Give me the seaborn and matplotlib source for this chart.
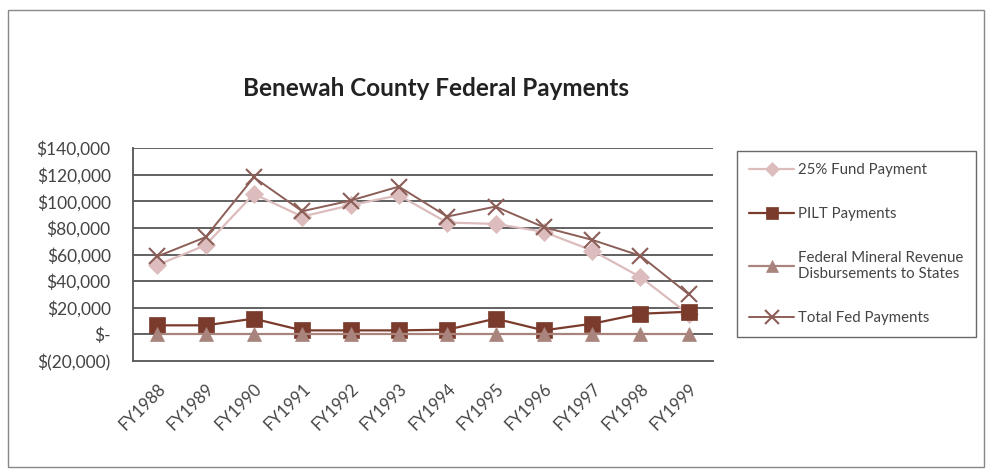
import numpy as np
import pandas as pd
import seaborn as sns
import matplotlib.pyplot as plt
from matplotlib.patches import Rectangle
from matplotlib.ticker import FuncFormatter

years = ['FY1988', 'FY1989', 'FY1990', 'FY1991', 'FY1992', 'FY1993',
         'FY1994', 'FY1995', 'FY1996', 'FY1997', 'FY1998', 'FY1999']
fund_25 = [52000, 67000, 105500, 88500, 97000, 104500, 84000, 83000, 77000, 63000, 43000, 15000]
pilt = [6800, 6800, 11800, 3000, 3000, 3000, 3500, 11800, 3000, 8000, 15500, 17000]
mineral = [200, 200, 200, 200, 200, 200, 200, 200, 200, 200, 200, 200]
total = [58500, 73000, 118000, 92500, 100500, 111000, 88500, 96000, 80500, 71000, 59000, 30000]

labels = ['25% Fund Payment', 'PILT Payments',
          'Federal Mineral Revenue\nDisbursements to States', 'Total Fed Payments']
colors = ['#dcbcbc', '#7a3a2c', '#a8847c', '#8c5e58']
markers = ['D', 's', '^', 'x']
msizes = [9, 11, 10, 12]
lws = [1.6, 1.6, 1.6, 1.4]

sns.set_style('white')
plt.rcParams['font.family'] = ['Lato', 'DejaVu Sans']

fig = plt.figure(figsize=(9.9, 4.69), dpi=100)
ax = fig.add_axes([133/990, 1 - 361/469, (713-133)/990, (361-148)/469])

for vals, lab, c, m, ms, lw in zip([fund_25, pilt, mineral, total], labels, colors, markers, msizes, lws):
    df = pd.DataFrame({'year': years, 'value': vals})
    sns.lineplot(data=df, x='year', y='value', ax=ax, color=c, marker=m, markersize=ms,
                 linewidth=lw, markeredgecolor=c, markeredgewidth=1.5 if m == 'x' else 0.5,
                 label=lab, sort=False)

ax.set_xlim(-0.5, len(years) - 0.5)
ax.set_ylim(-20000, 140000)
ax.set_yticks(np.arange(-20000, 140001, 20000))
for y in np.arange(0, 140001, 20000):
    ax.axhline(y, color='#555555', lw=1.3, zorder=0)

def money(v, pos):
    if v == 0:
        return '$-'
    if v < 0:
        return '$({:,.0f})'.format(-v)
    return '${:,.0f}'.format(v)

ax.yaxis.set_major_formatter(FuncFormatter(money))
ax.set_xticks(range(len(years)))
ax.set_xticklabels(years, rotation=45, ha='right', rotation_mode='anchor', fontsize=12, color='#444444')
ax.set_xticks(np.arange(-0.5, len(years), 1), minor=True)
ax.tick_params(axis='x', which='major', length=0, pad=14)
ax.tick_params(axis='x', which='minor', length=5, direction='out', color='#555555', width=1.2)
ax.tick_params(axis='y', length=8, direction='inout', color='#555555', width=1.2, pad=12,
               labelsize=12.5, labelcolor='#444444')
ax.set_xlabel('')
ax.set_ylabel('')
for s in ['top', 'right']:
    ax.spines[s].set_visible(False)
for s in ['left', 'bottom']:
    ax.spines[s].set_color('#555555')
    ax.spines[s].set_linewidth(1.3)

ax.get_legend().remove()
handles, labs = ax.get_legend_handles_labels()
leg = fig.legend(handles, labs, loc='upper left', bbox_to_anchor=(737/990, 1 - 151/469),
                 frameon=True, fancybox=False, edgecolor='#444444', fontsize=10.8,
                 labelspacing=2.0, handlelength=3.0, handletextpad=0.3,
                 borderpad=0.8, borderaxespad=0, markerscale=0.8)
leg.get_frame().set_linewidth(1.0)
for t in leg.get_texts():
    t.set_color('#444444')

fig.text(436/990, 1 - 88/469, 'Benewah County Federal Payments', ha='center', va='center',
         fontsize=17.5, fontweight='bold', color='#222222')

fig.patches.append(Rectangle((8/990, 0.005), 976/990, 1 - 10/469 - 0.005, transform=fig.transFigure,
                             fill=False, edgecolor='#888888', lw=1.0))

fig.savefig('out.png', dpi=100)
